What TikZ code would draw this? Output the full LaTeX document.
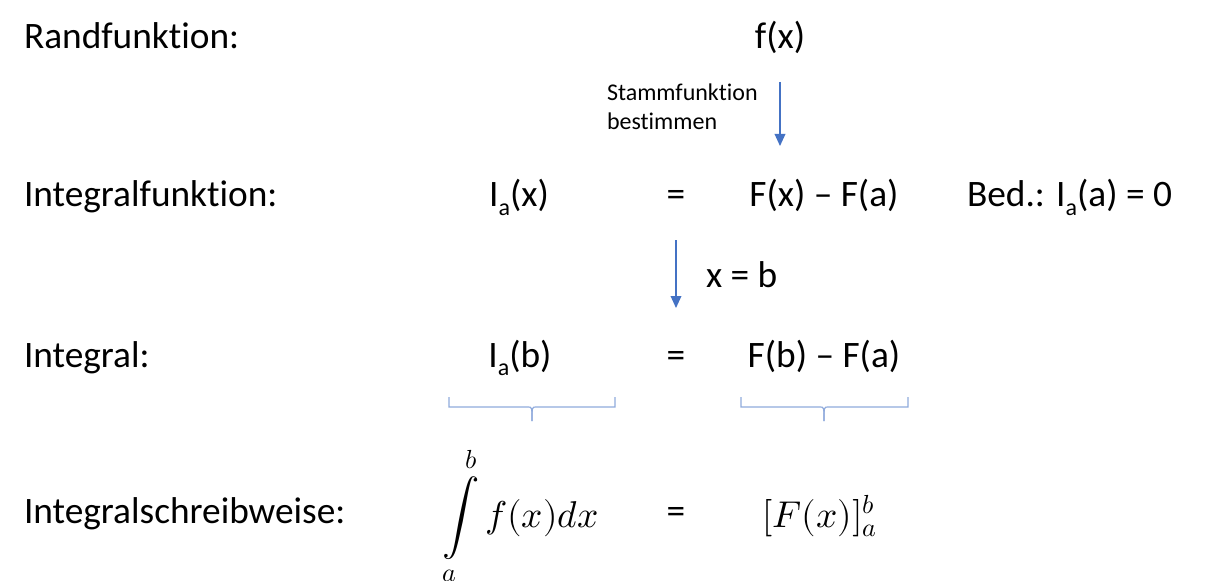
\documentclass[tikz,border=0pt]{standalone}
\usepackage{fontspec}
\usepackage{unicode-math}
\setmainfont{Carlito}[Ligatures={CommonOff}]
\setmathfont{Latin Modern Math}
\usetikzlibrary{arrows.meta}
\definecolor{pfeilblau}{HTML}{4472C4}
\definecolor{klammerblau}{HTML}{8FAADC}
\newcommand{\unten}[1]{\raisebox{-6pt}{\fontsize{18}{20}\selectfont #1}}
\begin{document}
\begin{tikzpicture}[x=0.75pt, y=-0.75pt, every node/.style={inner sep=0pt, outer sep=0pt, anchor=base},
    gross/.style={font=\fontsize{28}{34}\selectfont},
    klein/.style={font=\fontsize{18}{21.5}\selectfont, align=left, anchor=north west},
    zeile/.style={gross, anchor=base west},
    pfeil/.style={draw=pfeilblau, line width=1pt, -{Triangle[width=8pt, length=9pt]}},
    klammer/.style={draw=klammerblau, line width=0.9pt}]
    \useasboundingbox (0,0) rectangle (1210,581);

    % linke Spalte
    \node[zeile] (rand) at (24, 49) {Randfunktion:};
    \node[zeile] (intfkt) at (24, 207) {Integralfunktion:};
    \node[zeile] (integral) at (24, 367) {Integral:};
    \node[zeile] (schreib) at (24, 523) {Integralschreibweise:};

    % Randfunktion
    \node[gross] (fx) at (780, 49) {f(x)};
    \node[klein] (stamm) at (607, 84) {Stammfunktion\\bestimmen};
    \coordinate (p1a) at (780, 82);
    \coordinate (p1b) at (780, 146);
    \draw[pfeil] (p1a) -- (p1b);

    % Integralfunktion
    \node[gross] (Iax) at (519, 207) {I\unten{a}(x)};
    \node[gross] (gl1) at (676, 207) {=};
    \node[gross] (Fxa) at (824, 207) {F(x) – F(a)};
    \node[zeile] (bed) at (967, 207) {Bed.: I\unten{a}(a) = 0};

    \coordinate (p2a) at (676, 240);
    \coordinate (p2b) at (676, 308);
    \draw[pfeil] (p2a) -- (p2b);
    \node[zeile] (xb) at (706, 287) {x = b};

    % Integral
    \node[gross] (Iab) at (520, 367) {I\unten{a}(b)};
    \node[gross] (gl2) at (676, 367) {=};
    \node[gross] (Fba) at (824, 367) {F(b) – F(a)};

    \draw[klammer] (449, 397) |- (528, 407) .. controls (532, 407) .. (532, 421);
    \draw[klammer] (615, 397) |- (536, 407) .. controls (532, 407) .. (532, 421);
    \draw[klammer] (741, 397) |- (820, 407) .. controls (824, 407) .. (824, 421);
    \draw[klammer] (908, 397) |- (828, 407) .. controls (824, 407) .. (824, 421);

    % Integralschreibweise
    \node[zeile] (intab) at (442, 527) {$\displaystyle\int\limits_a^b f(x)dx$};
    \node[gross] (gl3) at (676, 523) {=};
    \node[zeile] (Fab) at (762, 527) {$[F(x)]_a^b$};
\end{tikzpicture}
\end{document}
